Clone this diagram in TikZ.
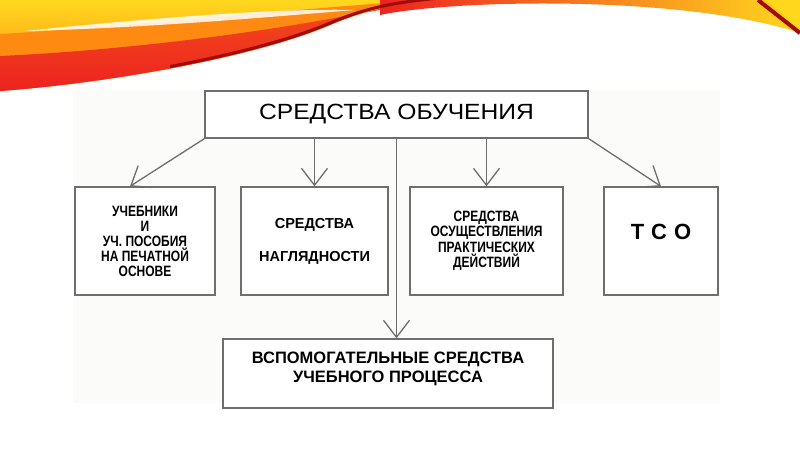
\documentclass[tikz,border=0pt]{standalone}
\usepackage{fontspec}
\setmainfont{Liberation Sans}
\newfontfamily\titlefont[FakeStretch=1.12]{Liberation Sans}
\newfontfamily\narrowfont[FakeStretch=0.8]{Liberation Sans}
\usetikzlibrary{arrows.meta}
\definecolor{linegray}{HTML}{6E6E6E}
\definecolor{bgtint}{HTML}{FBFBF9}
\definecolor{swyellow}{HTML}{FFD81E}
\definecolor{sworange}{HTML}{FF8A12}
\definecolor{swred}{HTML}{EC2320}
\definecolor{swdark}{HTML}{A30A0A}
\begin{document}
\begin{tikzpicture}[x=1pt,y=-1pt,
  box/.style={draw=linegray, line width=1.3pt, fill=white, inner sep=0pt, align=center, minimum height=108pt},
  arr/.style={draw=linegray, line width=1.3pt, -{Straight Barb[length=17pt,width=26pt]}}]
\fill[white] (0,0) rectangle (800,450);
\useasboundingbox (0,0) rectangle (800,450);
\fill[bgtint] (73,90) rectangle (720,403);
% swoosh
\shade[top color=swyellow, bottom color=sworange]
  (0,0) -- (0,91) .. controls (120,82) and (260,55) .. (330,25)
  .. controls (370,8) and (400,4) .. (440,0) -- cycle;
\fill[sworange] (0,34) .. controls (150,25) and (300,8) .. (430,0)
  .. controls (400,4) and (370,8) .. (330,25)
  .. controls (260,55) and (120,82) .. (0,91) -- cycle;
\shade[top color=sworange!40!swred, bottom color=swred]
  (0,56) .. controls (130,50) and (260,32) .. (340,17) -- (436,0)
  .. controls (400,4) and (370,8) .. (330,25)
  .. controls (260,55) and (120,82) .. (0,91) -- cycle;
\shade[left color=swred, middle color=sworange, right color=swyellow]
  (380,15) .. controls (450,0) and (680,-6) .. (800,33) -- (800,0) -- (380,0) -- cycle;
\fill[white, opacity=0.85] (25,31) .. controls (150,18) and (280,8) .. (355,10)
  .. controls (280,16) and (150,28) .. (25,31) -- cycle;
\begin{scope}
\clip (170,0) rectangle (460,100);
\draw[swdark, line width=3pt] (0,89) .. controls (120,80) and (260,53) .. (330,23)
  .. controls (370,6) and (400,2) .. (440,-2);
\end{scope}
\fill[swyellow] (766,0) -- (800,0) -- (800,26) -- cycle;
\draw[swdark, line width=4pt] (758,0) -- (800,33);
% boxes
\node[box, minimum width=383pt, minimum height=47pt, font=\titlefont\fontsize{22}{26}\selectfont] (box0) at (396.5,114.5)
  {СРЕДСТВА ОБУЧЕНИЯ};
\node[box, minimum width=140pt, font=\narrowfont\bfseries\fontsize{15}{15}\selectfont] (box1) at (145,241)
  {УЧЕБНИКИ\\И\\УЧ. ПОСОБИЯ\\НА ПЕЧАТНОЙ\\ОСНОВЕ};
\node[box, minimum width=147pt, font=\bfseries\fontsize{14.5}{15}\selectfont] (box2) at (314.5,241)
  {СРЕДСТВА\\[18pt]НАГЛЯДНОСТИ};
\node[box, minimum width=153pt, font=\narrowfont\bfseries\fontsize{15}{15.5}\selectfont] (box3) at (486.5,241)
  {СРЕДСТВА\\ОСУЩЕСТВЛЕНИЯ\\ПРАКТИЧЕСКИХ\\ДЕЙСТВИЙ};
\node[box, minimum width=114pt, font=\bfseries\fontsize{22}{26}\selectfont] (box4) at (661,241)
  {Т\hspace{7pt}С\hspace{7pt}О\\[-8pt]\mbox{}};
\node[box, minimum width=330pt, minimum height=69pt, font=\bfseries\fontsize{16.5}{19}\selectfont] (box5) at (388,373.5)
  {ВСПОМОГАТЕЛЬНЫЕ СРЕДСТВА\\УЧЕБНОГО ПРОЦЕССА\\[-7pt]\mbox{}};
% connectors
\draw[arr] (box0.south west) -- ([xshift=-15pt]box1.north);
\draw[arr] (box2.north |- box0.south) -- (box2.north);
\draw[arr] (box3.north |- box0.south) -- (box3.north);
\draw[arr] (box0.south east) -- (box4.north);
\draw[arr] (box0.south) -- (box0.south |- box5.north);
\end{tikzpicture}
\end{document}
